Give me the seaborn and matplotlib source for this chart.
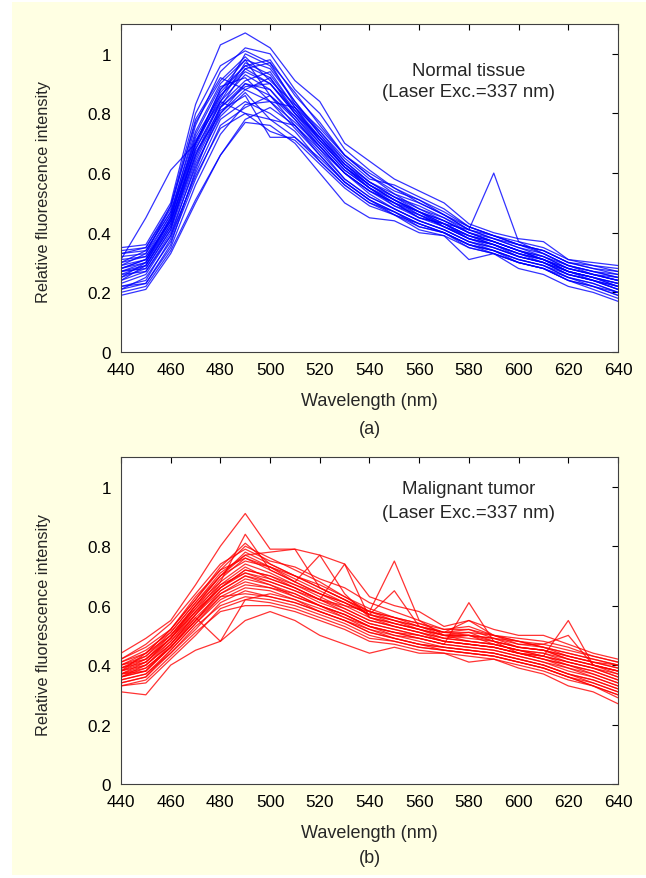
"""
Fluorescence spectra of normal tissue vs malignant tumor (337 nm excitation)
"""
import pandas as pd
import matplotlib
matplotlib.use("Agg")
import matplotlib.pyplot as plt
from matplotlib.patches import Rectangle
from matplotlib.ticker import FuncFormatter
import seaborn as sns

wavelength = [440, 450, 460, 470, 480, 490, 500, 510, 520, 530, 540,
              550, 560, 570, 580, 590, 600, 610, 620, 630, 640]

# normal tissue spectra
normal_spectra = [
    [0.35, 0.36, 0.50, 0.83, 1.03, 1.07, 1.02, 0.91, 0.84, 0.70, 0.64, 0.58, 0.54, 0.50, 0.43, 0.40, 0.38, 0.37, 0.31, 0.30, 0.29],
    [0.19, 0.21, 0.33, 0.50, 0.66, 0.77, 0.76, 0.70, 0.60, 0.50, 0.45, 0.44, 0.40, 0.39, 0.31, 0.33, 0.28, 0.26, 0.22, 0.20, 0.17],
    [0.28, 0.30, 0.44, 0.68, 0.84, 0.93, 0.88, 0.78, 0.68, 0.60, 0.54, 0.50, 0.45, 0.43, 0.41, 0.60, 0.37, 0.33, 0.29, 0.26, 0.24],
    [0.24, 0.27, 0.40, 0.62, 0.80, 0.88, 0.92, 0.80, 0.70, 0.61, 0.55, 0.49, 0.46, 0.42, 0.38, 0.36, 0.32, 0.30, 0.27, 0.24, 0.22],
    [0.30, 0.34, 0.47, 0.74, 0.90, 0.98, 0.95, 0.84, 0.74, 0.64, 0.57, 0.52, 0.49, 0.45, 0.40, 0.38, 0.35, 0.33, 0.29, 0.27, 0.25],
    [0.22, 0.24, 0.38, 0.60, 0.78, 0.84, 0.80, 0.74, 0.64, 0.56, 0.50, 0.47, 0.43, 0.40, 0.36, 0.34, 0.31, 0.29, 0.25, 0.23, 0.20],
    [0.31, 0.45, 0.61, 0.70, 0.88, 0.96, 0.98, 0.86, 0.77, 0.66, 0.60, 0.55, 0.50, 0.46, 0.42, 0.39, 0.36, 0.34, 0.30, 0.28, 0.26],
    [0.20, 0.22, 0.34, 0.51, 0.66, 0.78, 0.82, 0.76, 0.68, 0.58, 0.52, 0.48, 0.44, 0.41, 0.37, 0.35, 0.32, 0.30, 0.26, 0.24, 0.21],
    [0.26, 0.29, 0.42, 0.66, 0.82, 0.90, 0.86, 0.76, 0.67, 0.58, 0.52, 0.48, 0.44, 0.41, 0.37, 0.35, 0.32, 0.30, 0.26, 0.24, 0.22],
    [0.29, 0.31, 0.45, 0.72, 0.86, 0.94, 0.90, 0.80, 0.71, 0.62, 0.56, 0.51, 0.47, 0.44, 0.40, 0.37, 0.34, 0.31, 0.28, 0.26, 0.24],
    [0.33, 0.35, 0.48, 0.78, 0.92, 0.88, 0.84, 0.82, 0.74, 0.65, 0.58, 0.56, 0.52, 0.48, 0.42, 0.39, 0.36, 0.34, 0.30, 0.29, 0.27],
    [0.25, 0.28, 0.41, 0.64, 0.81, 0.86, 0.72, 0.72, 0.65, 0.57, 0.51, 0.46, 0.42, 0.40, 0.36, 0.34, 0.30, 0.28, 0.25, 0.23, 0.20],
    [0.27, 0.30, 0.43, 0.70, 0.85, 1.00, 0.96, 0.84, 0.73, 0.63, 0.56, 0.52, 0.48, 0.44, 0.40, 0.37, 0.34, 0.31, 0.27, 0.25, 0.23],
    [0.21, 0.25, 0.37, 0.58, 0.76, 0.82, 0.86, 0.78, 0.69, 0.60, 0.53, 0.48, 0.44, 0.41, 0.37, 0.34, 0.31, 0.29, 0.25, 0.22, 0.19],
    [0.32, 0.33, 0.46, 0.76, 0.94, 1.02, 1.00, 0.88, 0.80, 0.68, 0.61, 0.55, 0.51, 0.47, 0.42, 0.39, 0.37, 0.35, 0.31, 0.29, 0.28],
    [0.28, 0.31, 0.44, 0.68, 0.83, 0.91, 0.94, 0.82, 0.72, 0.63, 0.57, 0.52, 0.47, 0.42, 0.39, 0.36, 0.33, 0.31, 0.27, 0.25, 0.23],
    [0.23, 0.26, 0.39, 0.63, 0.79, 0.87, 0.78, 0.76, 0.66, 0.57, 0.51, 0.47, 0.42, 0.40, 0.36, 0.33, 0.30, 0.28, 0.24, 0.22, 0.20],
    [0.30, 0.32, 0.46, 0.70, 0.87, 0.96, 0.92, 0.81, 0.71, 0.62, 0.55, 0.50, 0.47, 0.43, 0.39, 0.37, 0.34, 0.32, 0.28, 0.26, 0.25],
    [0.27, 0.28, 0.41, 0.69, 0.86, 0.95, 0.97, 0.83, 0.73, 0.64, 0.57, 0.53, 0.48, 0.45, 0.41, 0.38, 0.35, 0.32, 0.28, 0.26, 0.24],
    [0.25, 0.30, 0.45, 0.73, 0.89, 0.92, 0.84, 0.77, 0.69, 0.60, 0.54, 0.50, 0.45, 0.43, 0.38, 0.36, 0.33, 0.30, 0.27, 0.25, 0.22],
    [0.33, 0.34, 0.47, 0.71, 0.84, 0.80, 0.78, 0.72, 0.64, 0.56, 0.50, 0.46, 0.43, 0.40, 0.36, 0.34, 0.31, 0.29, 0.26, 0.24, 0.21],
    [0.22, 0.23, 0.36, 0.61, 0.82, 0.95, 0.90, 0.80, 0.72, 0.63, 0.56, 0.51, 0.47, 0.43, 0.39, 0.36, 0.33, 0.31, 0.27, 0.25, 0.22],
    [0.29, 0.33, 0.49, 0.80, 0.96, 1.01, 0.97, 0.87, 0.76, 0.66, 0.59, 0.53, 0.50, 0.46, 0.41, 0.38, 0.36, 0.33, 0.29, 0.27, 0.26],
    [0.26, 0.27, 0.39, 0.59, 0.75, 0.80, 0.74, 0.71, 0.63, 0.55, 0.49, 0.46, 0.41, 0.39, 0.35, 0.33, 0.30, 0.28, 0.24, 0.22, 0.19],
    [0.31, 0.32, 0.44, 0.67, 0.80, 0.90, 0.88, 0.79, 0.70, 0.61, 0.55, 0.51, 0.47, 0.44, 0.40, 0.37, 0.34, 0.32, 0.29, 0.27, 0.25],
    [0.24, 0.29, 0.43, 0.66, 0.84, 0.97, 0.93, 0.82, 0.71, 0.62, 0.55, 0.50, 0.46, 0.42, 0.38, 0.35, 0.32, 0.30, 0.26, 0.24, 0.21],
    [0.34, 0.35, 0.49, 0.77, 0.91, 0.99, 0.91, 0.83, 0.75, 0.66, 0.59, 0.54, 0.51, 0.46, 0.41, 0.39, 0.36, 0.34, 0.30, 0.28, 0.27],
    [0.21, 0.23, 0.35, 0.56, 0.73, 0.83, 0.84, 0.75, 0.66, 0.57, 0.51, 0.47, 0.43, 0.40, 0.35, 0.33, 0.30, 0.28, 0.24, 0.21, 0.18],
    [0.28, 0.31, 0.45, 0.70, 0.88, 0.98, 0.86, 0.79, 0.69, 0.60, 0.54, 0.49, 0.45, 0.42, 0.38, 0.36, 0.33, 0.31, 0.27, 0.25, 0.23],
    [0.27, 0.29, 0.42, 0.65, 0.82, 0.89, 0.90, 0.81, 0.72, 0.62, 0.56, 0.51, 0.46, 0.43, 0.39, 0.37, 0.34, 0.31, 0.28, 0.26, 0.24],
]

# malignant tumor spectra
tumor_spectra = [
    [0.44, 0.49, 0.55, 0.67, 0.80, 0.91, 0.79, 0.79, 0.77, 0.74, 0.63, 0.60, 0.58, 0.53, 0.55, 0.52, 0.50, 0.50, 0.47, 0.44, 0.42],
    [0.31, 0.30, 0.40, 0.45, 0.48, 0.55, 0.58, 0.55, 0.50, 0.47, 0.44, 0.46, 0.44, 0.44, 0.41, 0.42, 0.39, 0.37, 0.33, 0.31, 0.27],
    [0.38, 0.41, 0.48, 0.58, 0.66, 0.72, 0.70, 0.66, 0.62, 0.60, 0.58, 0.75, 0.55, 0.50, 0.48, 0.47, 0.45, 0.43, 0.41, 0.39, 0.36],
    [0.36, 0.38, 0.46, 0.55, 0.64, 0.69, 0.67, 0.64, 0.60, 0.56, 0.53, 0.51, 0.49, 0.47, 0.61, 0.48, 0.44, 0.42, 0.40, 0.37, 0.34],
    [0.37, 0.40, 0.47, 0.57, 0.65, 0.70, 0.68, 0.65, 0.61, 0.58, 0.54, 0.52, 0.50, 0.48, 0.47, 0.46, 0.44, 0.43, 0.55, 0.40, 0.37],
    [0.34, 0.36, 0.44, 0.53, 0.60, 0.63, 0.62, 0.60, 0.57, 0.54, 0.50, 0.48, 0.46, 0.45, 0.44, 0.43, 0.41, 0.39, 0.36, 0.34, 0.31],
    [0.40, 0.44, 0.50, 0.60, 0.70, 0.78, 0.74, 0.70, 0.66, 0.62, 0.57, 0.55, 0.52, 0.50, 0.49, 0.48, 0.46, 0.45, 0.42, 0.40, 0.38],
    [0.39, 0.42, 0.49, 0.59, 0.69, 0.76, 0.72, 0.68, 0.77, 0.64, 0.56, 0.54, 0.52, 0.50, 0.50, 0.49, 0.47, 0.46, 0.43, 0.41, 0.39],
    [0.36, 0.39, 0.46, 0.56, 0.48, 0.62, 0.64, 0.62, 0.58, 0.55, 0.52, 0.50, 0.48, 0.46, 0.45, 0.44, 0.42, 0.40, 0.37, 0.35, 0.32],
    [0.42, 0.46, 0.52, 0.62, 0.72, 0.80, 0.76, 0.72, 0.68, 0.63, 0.59, 0.56, 0.54, 0.52, 0.52, 0.50, 0.48, 0.47, 0.45, 0.43, 0.41],
    [0.35, 0.37, 0.45, 0.54, 0.62, 0.66, 0.65, 0.62, 0.59, 0.56, 0.52, 0.49, 0.47, 0.45, 0.44, 0.43, 0.41, 0.39, 0.36, 0.33, 0.30],
    [0.38, 0.40, 0.48, 0.57, 0.67, 0.73, 0.69, 0.66, 0.62, 0.74, 0.56, 0.53, 0.51, 0.48, 0.47, 0.46, 0.44, 0.42, 0.40, 0.38, 0.35],
    [0.37, 0.41, 0.49, 0.58, 0.68, 0.74, 0.71, 0.67, 0.63, 0.59, 0.55, 0.53, 0.51, 0.49, 0.48, 0.47, 0.45, 0.43, 0.41, 0.39, 0.36],
    [0.41, 0.45, 0.51, 0.61, 0.71, 0.77, 0.78, 0.79, 0.66, 0.62, 0.58, 0.56, 0.53, 0.50, 0.50, 0.49, 0.46, 0.45, 0.43, 0.41, 0.40],
    [0.33, 0.35, 0.43, 0.51, 0.58, 0.60, 0.60, 0.58, 0.55, 0.52, 0.48, 0.47, 0.45, 0.44, 0.43, 0.42, 0.40, 0.38, 0.35, 0.33, 0.29],
    [0.39, 0.43, 0.50, 0.60, 0.68, 0.84, 0.72, 0.68, 0.64, 0.61, 0.57, 0.65, 0.53, 0.51, 0.55, 0.50, 0.47, 0.47, 0.50, 0.40, 0.38],
    [0.36, 0.38, 0.47, 0.56, 0.64, 0.68, 0.66, 0.63, 0.60, 0.57, 0.53, 0.51, 0.49, 0.47, 0.46, 0.45, 0.43, 0.41, 0.38, 0.36, 0.33],
    [0.40, 0.42, 0.50, 0.59, 0.67, 0.71, 0.69, 0.66, 0.62, 0.59, 0.55, 0.53, 0.51, 0.49, 0.48, 0.47, 0.45, 0.44, 0.41, 0.39, 0.37],
    [0.38, 0.44, 0.52, 0.62, 0.73, 0.81, 0.74, 0.70, 0.67, 0.63, 0.58, 0.55, 0.53, 0.51, 0.50, 0.48, 0.46, 0.45, 0.43, 0.41, 0.39],
    [0.35, 0.37, 0.44, 0.52, 0.61, 0.65, 0.63, 0.61, 0.58, 0.55, 0.51, 0.49, 0.47, 0.46, 0.45, 0.44, 0.42, 0.40, 0.37, 0.34, 0.31],
    [0.42, 0.47, 0.54, 0.64, 0.74, 0.79, 0.75, 0.73, 0.69, 0.66, 0.61, 0.58, 0.55, 0.52, 0.53, 0.50, 0.49, 0.48, 0.46, 0.43, 0.41],
    [0.37, 0.39, 0.46, 0.55, 0.63, 0.67, 0.66, 0.64, 0.60, 0.57, 0.53, 0.51, 0.50, 0.48, 0.47, 0.46, 0.44, 0.42, 0.39, 0.37, 0.34],
    [0.39, 0.41, 0.49, 0.58, 0.66, 0.72, 0.70, 0.67, 0.64, 0.60, 0.56, 0.54, 0.52, 0.49, 0.50, 0.47, 0.45, 0.44, 0.42, 0.40, 0.38],
    [0.33, 0.34, 0.42, 0.50, 0.59, 0.62, 0.61, 0.59, 0.56, 0.53, 0.49, 0.48, 0.46, 0.45, 0.44, 0.43, 0.41, 0.39, 0.36, 0.33, 0.30],
    [0.40, 0.43, 0.51, 0.61, 0.70, 0.75, 0.73, 0.69, 0.65, 0.61, 0.57, 0.55, 0.53, 0.51, 0.51, 0.50, 0.48, 0.46, 0.44, 0.42, 0.40],
    [0.36, 0.40, 0.47, 0.57, 0.66, 0.71, 0.68, 0.65, 0.62, 0.58, 0.54, 0.52, 0.50, 0.48, 0.47, 0.46, 0.44, 0.43, 0.40, 0.38, 0.35],
    [0.38, 0.42, 0.49, 0.60, 0.70, 0.77, 0.73, 0.68, 0.64, 0.61, 0.57, 0.54, 0.52, 0.50, 0.51, 0.48, 0.46, 0.45, 0.42, 0.40, 0.38],
    [0.34, 0.36, 0.45, 0.54, 0.63, 0.64, 0.63, 0.61, 0.58, 0.55, 0.51, 0.49, 0.47, 0.46, 0.45, 0.44, 0.42, 0.40, 0.37, 0.35, 0.32],
    [0.41, 0.44, 0.52, 0.63, 0.72, 0.76, 0.73, 0.70, 0.66, 0.62, 0.58, 0.56, 0.54, 0.51, 0.52, 0.49, 0.48, 0.46, 0.44, 0.42, 0.40],
    [0.37, 0.38, 0.46, 0.55, 0.65, 0.70, 0.67, 0.63, 0.60, 0.57, 0.53, 0.50, 0.49, 0.47, 0.46, 0.45, 0.43, 0.41, 0.39, 0.36, 0.33],
]

# (spectra, colour, annotation lines, annotation x, annotation y's, panel tag, tag y)
panels = [
    (normal_spectra, "#0000FF", ["Normal tissue", "(Laser Exc.=337 nm)"], 580, [0.943, 0.875], "(a)", -0.232),
    (tumor_spectra, "#FF0000", ["Malignant tumor", "(Laser Exc.=337 nm)"], 580, [0.995, 0.912], "(b)", -0.225),
]


def to_long(spectra):
    rows = []
    for i, spec in enumerate(spectra):
        for wl, val in zip(wavelength, spec):
            rows.append({"sample": i, "wavelength": wl, "intensity": val})
    return pd.DataFrame(rows)


sns.set_theme(style="white")
plt.rcParams["font.family"] = ["Liberation Sans", "DejaVu Sans"]
plt.rcParams["font.size"] = 12

fig = plt.figure(figsize=(6.46, 8.79), dpi=100)
fig.patch.set_facecolor("white")
fig.patches.append(Rectangle((12 / 646, 3 / 879), 1 - 12 / 646, 1 - 6 / 879,
                             transform=fig.transFigure, facecolor="#FFFFE3",
                             edgecolor="none", zorder=-10))

axes_pos = [
    [121 / 646, 1 - 353 / 879, 497 / 646, 328 / 879],
    [121 / 646, 1 - 785 / 879, 497 / 646, 327 / 879],
]

fmt = FuncFormatter(lambda v, _: "0" if abs(v) < 1e-9 else ("1" if abs(v - 1) < 1e-9 else f"{v:g}"))

for pos, (spectra, color, note, nx, ny, tag, tag_y) in zip(axes_pos, panels):
    ax = fig.add_axes(pos)
    ax.set_facecolor("white")
    df = to_long(spectra)
    sns.lineplot(data=df, x="wavelength", y="intensity", units="sample",
                 estimator=None, color=color, linewidth=0.9, alpha=0.8, ax=ax)
    ax.set_xlim(440, 640)
    ax.set_ylim(0, 1.1)
    ax.set_xticks(range(440, 641, 20))
    ax.set_yticks([0, 0.2, 0.4, 0.6, 0.8, 1.0])
    ax.yaxis.set_major_formatter(fmt)
    ax.tick_params(direction="in", length=4, width=0.8, top=True, right=True,
                   labelsize=12.3, colors="black")
    ax.tick_params(axis="x", pad=7)
    ax.tick_params(axis="y", pad=7)
    for sp in ax.spines.values():
        sp.set_color("#404040")
        sp.set_linewidth(0.8)
    ax.set_xlabel("Wavelength (nm)", fontsize=13, va="center")
    ax.set_ylabel("Relative fluorescence intensity", fontsize=11.8, va="center")
    ax.xaxis.set_label_coords(0.5, -0.149)
    ax.yaxis.set_label_coords(-0.156, 0.49)
    for line, yy in zip(note, ny):
        ax.text(nx, yy, line, ha="center", va="center", fontsize=13.4)
    ax.text(0.5, tag_y, tag, transform=ax.transAxes, ha="center", va="center",
            fontsize=13)

fig.savefig("out.png", dpi=100)
